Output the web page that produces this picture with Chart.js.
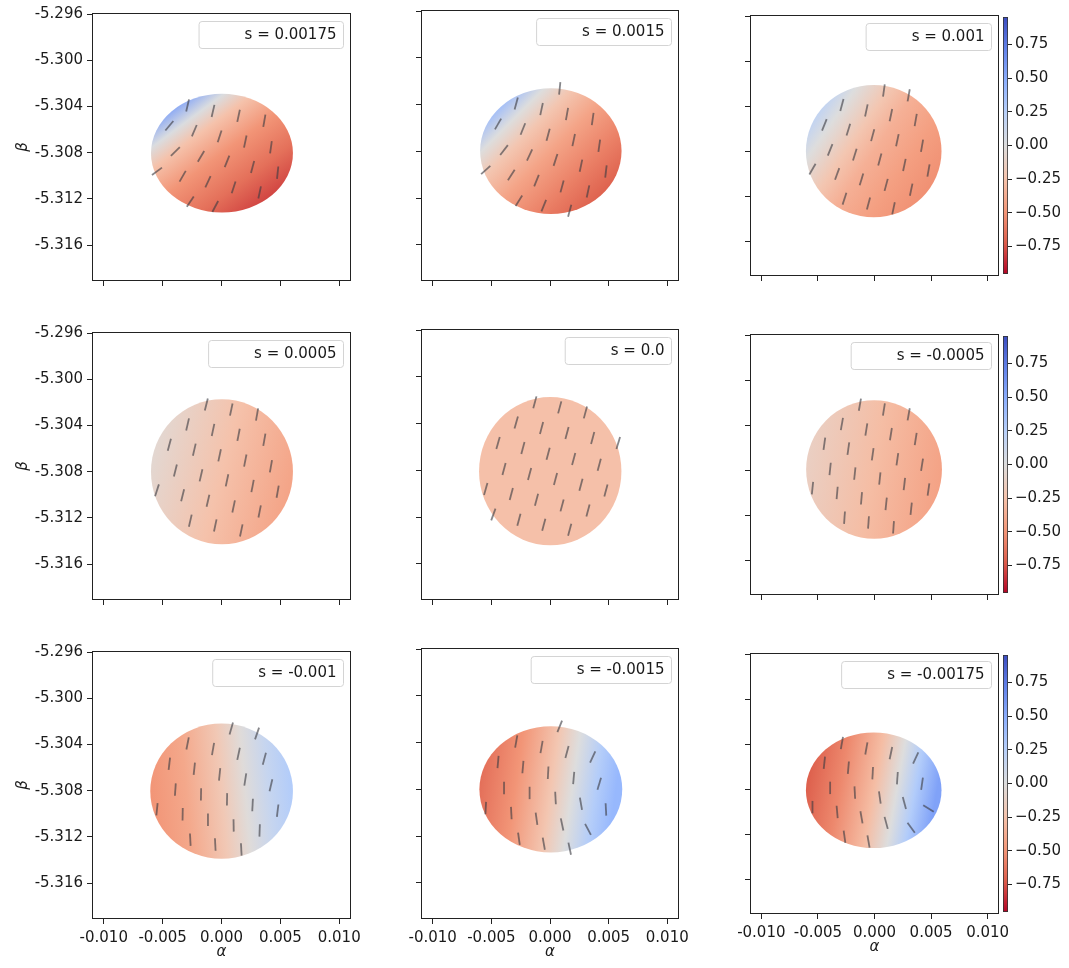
<!DOCTYPE html>
<html>
<head>
<meta charset="utf-8">
<script src="https://cdn.jsdelivr.net/npm/chart.js@4.4.1/dist/chart.umd.min.js"></script>
<style>
  body { margin: 0; background: #fff; overflow: hidden; }
  #wrap { position: relative; width: 1069px; height: 968px; overflow: hidden; }
  canvas { position: absolute; }
</style>
</head>
<body>
<div id="wrap"></div>
<script>
// legend values, one per panel (row by row)
const sValues = ['0.00175', '0.0015', '0.001', '0.0005', '0.0', '-0.0005', '-0.001', '-0.0015', '-0.00175'];

// axis ticks
const xTicks = [-0.010, -0.005, 0.000, 0.005, 0.010];
const yTicks = [-5.316, -5.312, -5.308, -5.304, -5.300, -5.296];
const cbTicks = [-0.75, -0.50, -0.25, 0.00, 0.25, 0.50, 0.75];
const xMin = -0.011, xMax = 0.011;
const yMin = -5.3191, yMax = -5.2959;
const cbMin = -0.955, cbMax = 0.955;

// disk of each panel: centre and half-widths
const diskX  = [0.00004, 0.00007, -0.00007, 0.00004, 0.00002, -0.00004, 0.00001, 0.00007, -0.00007];
const diskY  = [-5.30803, -5.30798, -5.30800, -5.30800, -5.30807, -5.30794, -5.30803, -5.30800, -5.30810];
const diskRX = [0.00603, 0.00603, 0.00599, 0.00603, 0.00607, 0.00600, 0.00606, 0.00609, 0.00599];
const diskRY = [0.00514, 0.00538, 0.00588, 0.00628, 0.00635, 0.00616, 0.00585, 0.00540, 0.00514];

// colour field across each disk: direction (deg) and values along it
const fieldAngle = [-54, -45, -35, -15, 0, -10, 5, -8, -10];
const fieldPos = [
  [-0.0058, -0.004, -0.0025, 0, 0.003, 0.0058],
  [-0.006, -0.0042, -0.0025, 0, 0.003, 0.006],
  [-0.006, -0.0045, -0.002, 0, 0.003, 0.006],
  [-0.006, 0, 0.006],
  [-0.006, 0.006],
  [-0.006, 0, 0.006],
  [-0.006, -0.003, 0, 0.002, 0.004, 0.006],
  [-0.006, -0.003, 0, 0.0018, 0.0038, 0.0055],
  [-0.006, -0.003, 0, 0.002, 0.0036, 0.0055]
];
const fieldVal = [
  [0.55, 0.02, -0.25, -0.5, -0.65, -0.8],
  [0.4, 0.0, -0.22, -0.42, -0.58, -0.72],
  [0.18, 0.0, -0.22, -0.35, -0.45, -0.52],
  [-0.06, -0.25, -0.42],
  [-0.26, -0.26],
  [-0.13, -0.28, -0.43],
  [-0.5, -0.4, -0.2, -0.02, 0.15, 0.27],
  [-0.65, -0.5, -0.22, 0.0, 0.26, 0.42],
  [-0.72, -0.55, -0.28, 0.0, 0.27, 0.55]
];

// positions of the orientation bars (alpha, beta)
const gridA = [-0.00129, 0.00083, 0.00302,
  -0.00288, -0.00072, 0.00145, 0.00364, 0.00582,
  -0.00443, -0.00231, -0.00016, 0.00202, 0.00420,
  -0.00392, -0.00174, 0.00047, 0.00264, 0.00477,
  -0.00548, -0.00330, -0.00115, 0.00103, 0.00324,
  -0.00483, -0.00265, -0.00053, 0.00168];
const gridB = [-5.30218, -5.30261, -5.30304,
  -5.30390, -5.30438, -5.30480, -5.30523, -5.30566,
  -5.30566, -5.30609, -5.30658, -5.30703, -5.30752,
  -5.30789, -5.30831, -5.30874, -5.30923, -5.30972,
  -5.30960, -5.31003, -5.31051, -5.31100, -5.31143,
  -5.31178, -5.31223, -5.31265, -5.31308];

// bar tilt from vertical in degrees (null = not drawn)
const _ = null;
const tilts = [
  [_, _, _,  13, 13, 12, 10, _,  40, 23, 18, 12, 8,  46, 31, 22, 15, 6,  54, 30, 25, 18, 12,  _, 34, 28, _],
  [_, 6, _,  15, 12, 10, 8, _,  30, 22, 15, 12, 8,  38, 25, 18, 12, 7,  48, 33, 22, 15, 12,  _, 32, 22, 15],
  [_, 8, 10,  15, 12, 12, 10, _,  22, 17, 15, 12, 10,  22, 17, 15, 12, 10,  30, 20, 17, 15, 12,  _, 18, 15, 12],
  [14, 12, 10,  13, 12, 11, 10, _,  15, 13, 12, 11, 10,  14, 13, 12, 11, 10,  18, 14, 13, 12, 11,  _, 13, 12, 12],
  [15, 15, 15,  16, 15, 15, 15, 17,  16, 15, 15, 15, 15,  15, 15, 15, 15, 15,  16, 15, 15, 15, 15,  20, 15, 15, 15],
  [10, 9, 10,  10, 9, 9, 9, _,  8, 8, 8, 8, 9,  6, 6, 6, 7, 8,  6, 5, 5, 6, 6,  _, 4, 4, 4],
  [_, 16, 19,  11, 10, 12, 15, _,  7, 6, 6, 9, 13,  4, 1, 1, 3, 7,  6, 1, 0, -1, 2,  _, -3, -3, -3],
  [_, 22, _,  10, 10, 15, 25, _,  5, 5, 3, 5, 17,  0, 0, -3, -10, -3,  3, -3, -8, -12, -28,  _, -8, -10, -12],
  [_, _, _,  10, 10, 12, 25, _,  6, 5, 3, 4, 8,  0, -3, -8, -15, -58,  0, -5, -10, -15, -36,  _, -8, -10, _]
];

// page layout of the axes boxes
const colLeft = [92, 421, 750];
const colWidth = [259, 258, 249];
const rowTop = [[10, 329, 648], [10, 329, 648], [15, 334, 653]];
const colHeight = [271, 271, 261];

const FONT = '"DejaVu Sans", "Liberation Sans", sans-serif';
const TXT = '#1a1a1a';

const cwStops = [[59,76,192],[98,130,234],[141,176,254],[184,208,249],[221,221,221],[245,196,173],[244,154,123],[222,96,77],[180,4,38]];
function coolwarm(t) {
  t = Math.min(1, Math.max(0, t)) * (cwStops.length - 1);
  const i = Math.min(cwStops.length - 2, Math.floor(t));
  const f = t - i;
  const c = cwStops[i].map((v, k) => Math.round(v + (cwStops[i + 1][k] - v) * f));
  return 'rgb(' + c.join(',') + ')';
}
function valueColor(v) {
  return coolwarm((cbMax - v) / (cbMax - cbMin));
}

const diskPlugin = {
  id: 'disk',
  beforeDatasetsDraw(chart) {
    const p = chart.options.plugins.disk.panel;
    const xs = chart.scales.x, ys = chart.scales.y, ctx = chart.ctx;
    const cx = xs.getPixelForValue(diskX[p]);
    const cy = ys.getPixelForValue(diskY[p]);
    const rx = xs.getPixelForValue(diskX[p] + diskRX[p]) - cx;
    const ry = cy - ys.getPixelForValue(diskY[p] + diskRY[p]);
    const span = 0.0065;
    const a = fieldAngle[p] * Math.PI / 180;
    const g = ctx.createLinearGradient(
      xs.getPixelForValue(diskX[p] - Math.cos(a) * span), ys.getPixelForValue(diskY[p] - Math.sin(a) * span),
      xs.getPixelForValue(diskX[p] + Math.cos(a) * span), ys.getPixelForValue(diskY[p] + Math.sin(a) * span));
    fieldPos[p].forEach((pos, i) => g.addColorStop((pos + span) / (2 * span), valueColor(fieldVal[p][i])));
    ctx.save();
    ctx.beginPath();
    ctx.ellipse(cx, cy, rx, ry, 0, 0, Math.PI * 2);
    ctx.fillStyle = g;
    ctx.fill();
    ctx.restore();
  }
};

const framePlugin = {
  id: 'frame',
  afterDraw(chart) {
    const a = chart.chartArea, ctx = chart.ctx;
    ctx.save();
    ctx.strokeStyle = '#222';
    ctx.lineWidth = 1;
    ctx.strokeRect(Math.round(a.left) + 0.5, Math.round(a.top) + 0.5, Math.round(a.right - a.left) - 1, Math.round(a.bottom - a.top) - 1);
    ctx.restore();
  }
};

const sLegendPlugin = {
  id: 'sLegend',
  afterDraw(chart) {
    const p = chart.options.plugins.sLegend.panel;
    const a = chart.chartArea, ctx = chart.ctx;
    const text = 's = ' + sValues[p];
    ctx.save();
    ctx.font = '15px ' + FONT;
    const w = ctx.measureText(text).width + 46 + 6.5;
    const right = a.right - 8, top = a.top + 8, h = 27;
    ctx.beginPath();
    ctx.roundRect(right - w + 0.5, top + 0.5, w, h, 3);
    ctx.fillStyle = 'rgba(255,255,255,0.8)';
    ctx.fill();
    ctx.strokeStyle = '#d4d4d4';
    ctx.lineWidth = 1;
    ctx.stroke();
    ctx.fillStyle = TXT;
    ctx.textAlign = 'right';
    ctx.textBaseline = 'middle';
    ctx.fillText(text, right - 6.5, top + h / 2 + 1);
    ctx.restore();
  }
};

const wrap = document.getElementById('wrap');

function addCanvas(left, top, width, height) {
  const c = document.createElement('canvas');
  c.width = width; c.height = height;
  c.style.left = left + 'px'; c.style.top = top + 'px';
  c.style.width = width + 'px'; c.style.height = height + 'px';
  wrap.appendChild(c);
  return c;
}

function makePanel(p) {
  const row = Math.floor(p / 3), col = p % 3;
  const L = colLeft[col], W = colWidth[col], T = rowTop[col][row], H = colHeight[col];
  // 30px on the right leaves room for the last tick label, so the plot box is not squeezed
  const canvas = addCanvas(L - 92, T - 10, W + 92 + 30, H + 60);

  const pts = [], rots = [];
  tilts[p].forEach((t, i) => {
    if (t !== null) {
      pts.push({ x: gridA[i], y: gridB[i] });
      rots.push(90 + t);
    }
  });

  const tickFont = { family: FONT, size: 15 };
  new Chart(canvas, {
    type: 'scatter',
    data: {
      datasets: [{
        data: pts,
        pointStyle: 'line',
        pointRadius: 6.2,
        pointHoverRadius: 6.2,
        pointRotation: rots,
        borderColor: 'rgba(60,60,66,0.62)',
        pointBorderColor: 'rgba(60,60,66,0.62)',
        borderWidth: 1.8,
        pointBorderWidth: 1.8
      }]
    },
    options: {
      responsive: false,
      animation: false,
      devicePixelRatio: 1,
      events: [],
      layout: { padding: { left: 10, top: 10, right: 30, bottom: 0 } },
      plugins: {
        legend: { display: false },
        tooltip: { enabled: false },
        disk: { panel: p },
        sLegend: { panel: p }
      },
      scales: {
        x: {
          type: 'linear', min: xMin, max: xMax,
          afterBuildTicks: s => { s.ticks = xTicks.map(v => ({ value: v })); },
          afterFit: s => { s.height = 50; },
          border: { display: false },
          grid: { drawOnChartArea: false, drawTicks: true, tickLength: 5, tickColor: '#222' },
          ticks: { display: row === 2, autoSkip: false, maxRotation: 0, padding: 5, font: tickFont, color: TXT,
                   callback: v => Number(v).toFixed(3) },
          title: { display: row === 2, text: 'α', color: TXT, font: { family: FONT, size: 15, style: 'italic' },
                   padding: { top: 4, bottom: 8 } }
        },
        y: {
          type: 'linear', min: yMin, max: yMax,
          afterBuildTicks: s => { s.ticks = yTicks.map(v => ({ value: v })); },
          afterFit: s => { s.width = 82; },
          border: { display: false },
          grid: { drawOnChartArea: false, drawTicks: true, tickLength: 5, tickColor: '#222' },
          ticks: { display: col === 0, autoSkip: false, padding: 4, font: tickFont, color: TXT,
                   callback: v => Number(v).toFixed(3) },
          title: { display: col === 0, text: 'β', color: TXT, font: { family: FONT, size: 15, style: 'italic' },
                   padding: { top: 4, bottom: 4 } }
        }
      }
    },
    plugins: [diskPlugin, framePlugin, sLegendPlugin]
  });
}

const cbPlugin = {
  id: 'cbFill',
  beforeDatasetsDraw(chart) {
    const a = chart.chartArea, ctx = chart.ctx;
    const g = ctx.createLinearGradient(0, a.top, 0, a.bottom);
    cwStops.forEach((c, i) => g.addColorStop(i / (cwStops.length - 1), coolwarm(i / (cwStops.length - 1))));
    ctx.save();
    ctx.fillStyle = g;
    ctx.fillRect(a.left, a.top, a.right - a.left, a.bottom - a.top);
    ctx.strokeStyle = '#333';
    ctx.lineWidth = 0.8;
    ctx.strokeRect(a.left + 0.4, a.top + 0.4, a.right - a.left - 0.8, a.bottom - a.top - 0.8);
    ctx.restore();
  }
};

function makeColorbar(row) {
  const T = rowTop[2][row], H = colHeight[2];
  const canvas = addCanvas(1003, T - 10, 66, H + 20);
  new Chart(canvas, {
    type: 'scatter',
    data: { datasets: [{ data: [] }] },
    options: {
      responsive: false,
      animation: false,
      devicePixelRatio: 1,
      events: [],
      layout: { padding: { left: 0, top: 10, right: 0, bottom: 10 } },
      plugins: { legend: { display: false }, tooltip: { enabled: false } },
      scales: {
        x: { display: false, min: 0, max: 1 },
        y: {
          position: 'right', min: cbMin, max: cbMax,
          afterBuildTicks: s => { s.ticks = cbTicks.map(v => ({ value: v })); },
          afterFit: s => { s.width = 61; },
          border: { display: false },
          grid: { drawOnChartArea: false, drawTicks: true, tickLength: 4, tickColor: '#222' },
          ticks: { autoSkip: false, padding: 3, font: { family: FONT, size: 15 }, color: TXT,
                   callback: v => (v < 0 ? '\u2212' : '') + Math.abs(v).toFixed(2) }
        }
      }
    },
    plugins: [cbPlugin]
  });
}

for (let p = 0; p < 9; p++) makePanel(p);
for (let r = 0; r < 3; r++) makeColorbar(r);
</script>
</body>
</html>
